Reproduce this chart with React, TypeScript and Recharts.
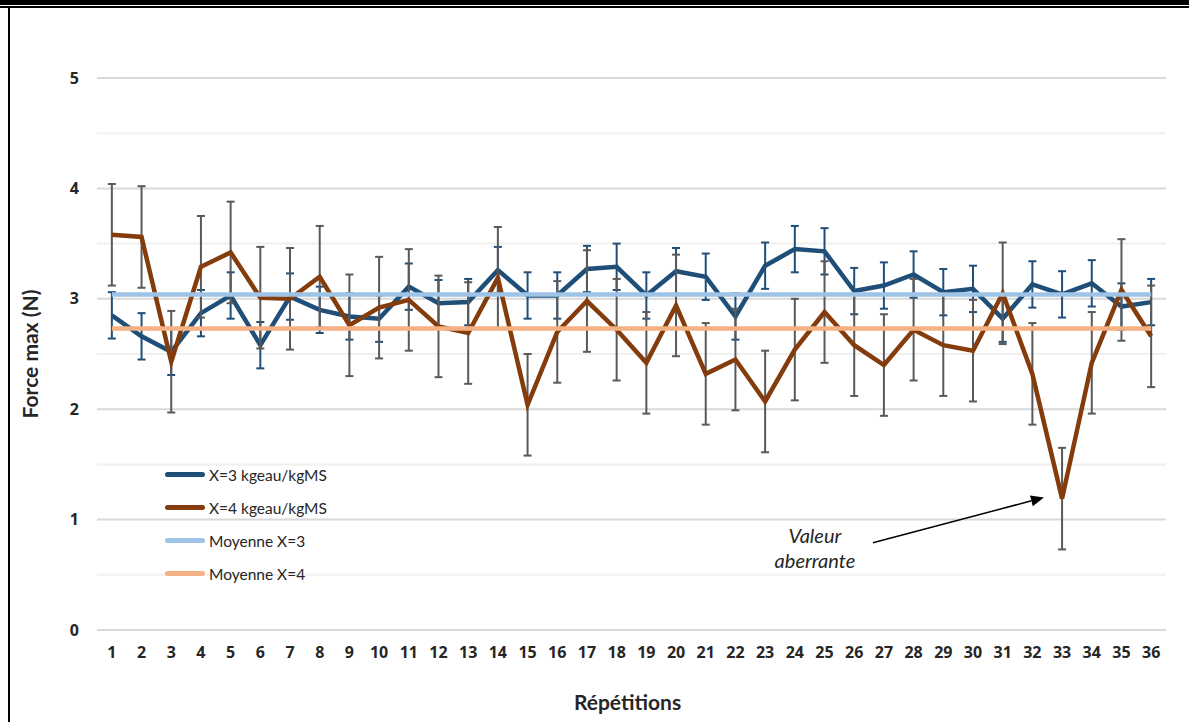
import React from "react";
import {
  ComposedChart,
  Line,
  XAxis,
  YAxis,
  ErrorBar,
  ReferenceLine,
  Legend,
} from "recharts";

const repetitions = [
  1, 2, 3, 4, 5, 6, 7, 8, 9, 10, 11, 12, 13, 14, 15, 16, 17, 18,
  19, 20, 21, 22, 23, 24, 25, 26, 27, 28, 29, 30, 31, 32, 33, 34, 35, 36,
];

const forceX3 = [
  2.85, 2.66, 2.52, 2.87, 3.03, 2.58, 3.02, 2.9, 2.84, 2.82, 3.11, 2.96,
  2.97, 3.26, 3.03, 3.03, 3.27, 3.29, 3.03, 3.25, 3.2, 2.84, 3.3, 3.45,
  3.43, 3.07, 3.12, 3.22, 3.06, 3.09, 2.82, 3.13, 3.04, 3.14, 2.93, 2.97,
];

const forceX4 = [
  3.58, 3.56, 2.43, 3.29, 3.42, 3.01, 3.0, 3.2, 2.76, 2.92, 2.99, 2.75,
  2.69, 3.19, 2.04, 2.7, 2.98, 2.72, 2.42, 2.94, 2.32, 2.45, 2.07, 2.54,
  2.88, 2.58, 2.4, 2.72, 2.58, 2.53, 3.05, 2.32, 1.19, 2.42, 3.08, 2.66,
];

// écart-type (barres d'erreur) et moyennes
const errX3 = 0.21;
const errX4 = 0.46;
const meanX3 = 3.04;
const meanX4 = 2.73;

const yTickLabels = [0, 1, 2, 3, 4, 5];
const gridValues = [0, 0.5, 1, 1.5, 2, 2.5, 3, 3.5, 4, 4.5, 5];

const seriesNames = [
  "X=3 kgeau/kgMS",
  "X=4 kgeau/kgMS",
  "Moyenne X=3",
  "Moyenne X=4",
];
const seriesColors = ["#1F4E79", "#843C0C", "#9DC3E6", "#F4B183"];

const data = repetitions.map((rep, i) => ({
  rep,
  x3: forceX3[i],
  x4: forceX4[i],
  e3: errX3,
  e4: errX4,
  m3: meanX3,
  m4: meanX4,
}));

const FONT = "Lato, 'Open Sans', sans-serif";
const TICK_FONT = "'Open Sans', Lato, sans-serif";
const TEXT = "#262626";

const YTick = (props: any) => {
  const { x, y, payload } = props;
  return (
    <text x={x} y={y} dy="0.35em" textAnchor="end" fontFamily={TICK_FONT} fontWeight={700} fontSize={16} fill={TEXT}>
      {payload.value}
    </text>
  );
};

const XTick = (props: any) => {
  const { x, y, payload } = props;
  return (
    <text x={x} y={y} dy="0.35em" textAnchor="middle" fontFamily={TICK_FONT} fontWeight={700} fontSize={16} fill={TEXT}>
      {payload.value}
    </text>
  );
};

// légende dans l'ordre des séries (pas de tri alphabétique)
const LegendBox = () => (
  <div style={{ fontFamily: FONT, fontSize: 15.5, color: TEXT }}>
    {seriesNames.map((name, i) => (
      <div key={name} style={{ display: "flex", alignItems: "center", height: 33 }}>
        <div style={{ width: 40, height: 4.5, borderRadius: 3, background: seriesColors[i], marginRight: 4 }} />
        <span>{name}</span>
      </div>
    ))}
  </div>
);

const Arrow = (props: any) => {
  const { x1, y1, x2, y2 } = props;
  const ang = Math.atan2(y2 - y1, x2 - x1);
  const len = 13;
  const half = 5.5;
  const bx = x2 - len * Math.cos(ang);
  const by = y2 - len * Math.sin(ang);
  const px = -Math.sin(ang) * half;
  const py = Math.cos(ang) * half;
  return (
    <g>
      <line x1={x1} y1={y1} x2={bx} y2={by} stroke="#000" strokeWidth={1.5} />
      <polygon points={`${x2},${y2} ${bx + px},${by + py} ${bx - px},${by - py}`} fill="#000" />
      <text x={x1 - 58} y={y1} textAnchor="middle" fontFamily={FONT} fontStyle="italic" fontSize={20} fill={TEXT}>
        Valeur
      </text>
      <text x={x1 - 58} y={y1 + 25} textAnchor="middle" fontFamily={FONT} fontStyle="italic" fontSize={20} fill={TEXT}>
        aberrante
      </text>
    </g>
  );
};

export default function App() {
  return (
    <div style={{ position: "absolute", left: 0, top: 0, width: 1189, height: 722, background: "#fff", overflow: "hidden" }}>
      <div style={{ position: "absolute", left: 0, top: 0, width: 1189, height: 4.5, background: "#000" }} />
      <div style={{ position: "absolute", left: 0, top: 6, width: 1189, height: 1.5, background: "#000" }} />
      <div style={{ position: "absolute", left: 7.5, top: 6, width: 2, height: 716, background: "#000" }} />
      <ComposedChart
        width={1189}
        height={722}
        data={data}
        margin={{ top: 78, right: 23, bottom: 52, left: 37 }}
      >
        <XAxis
          dataKey="rep"
          type="number"
          domain={[0.5, 36.5]}
          ticks={repetitions}
          interval={0}
          axisLine={false}
          tickLine={false}
          tickSize={6}
          tickMargin={16}
          tick={<XTick />}
          height={40}
          label={{
            content: (p: any) => (
              <text
                x={p.viewBox.x + p.viewBox.width / 2 - 4}
                y={p.viewBox.y + 73}
                dy="0.35em"
                textAnchor="middle"
                fontFamily={FONT}
                fontWeight={700}
                fontSize={21}
                fill={TEXT}
              >
                Répétitions
              </text>
            ),
          }}
        />
        <YAxis
          type="number"
          domain={[0, 5]}
          ticks={yTickLabels}
          interval={0}
          axisLine={false}
          tickLine={false}
          tickSize={6}
          tickMargin={12}
          tick={<YTick />}
          width={60}
          label={{
            content: (p: any) => {
              const cx = p.viewBox.x - 6;
              const cy = p.viewBox.y + p.viewBox.height / 2;
              return (
                <text
                  x={cx}
                  y={cy}
                  dy="0.35em"
                  textAnchor="middle"
                  transform={`rotate(-90 ${cx} ${cy})`}
                  fontFamily={FONT}
                  fontWeight={700}
                  fontSize={21}
                  fill={TEXT}
                >
                  Force max (N)
                </text>
              );
            },
          }}
        />
        {gridValues.map((v) => (
          <ReferenceLine
            key={v}
            y={v}
            stroke={Number.isInteger(v) ? "#D9D9D9" : "#F0F0F0"}
            strokeWidth={2}
          />
        ))}
        <Legend
          layout="horizontal"
          verticalAlign="middle"
          align="center"
          content={<LegendBox />}
          wrapperStyle={{ left: 165, top: 458, width: 260, height: 132 }}
        />
        <Line
          dataKey="x3"
          name={seriesNames[0]}
          stroke={seriesColors[0]}
          strokeWidth={4.5}
          dot={false}
          isAnimationActive={false}
        >
          <ErrorBar dataKey="e3" width={4} stroke="#1F4E79" strokeWidth={2} direction="y" />
        </Line>
        <Line
          dataKey="x4"
          name={seriesNames[1]}
          stroke={seriesColors[1]}
          strokeWidth={4.5}
          dot={false}
          isAnimationActive={false}
        >
          <ErrorBar dataKey="e4" width={4} stroke="#595959" strokeWidth={2} direction="y" />
        </Line>
        <Line
          dataKey="m3"
          name={seriesNames[2]}
          stroke={seriesColors[2]}
          strokeWidth={4.5}
          dot={false}
          isAnimationActive={false}
        />
        <Line
          dataKey="m4"
          name={seriesNames[3]}
          stroke={seriesColors[3]}
          strokeWidth={4.5}
          dot={false}
          isAnimationActive={false}
        />
        <ReferenceLine
          segment={[
            { x: 26.63, y: 0.79 },
            { x: 32.39, y: 1.2 },
          ]}
          shape={<Arrow />}
        />
      </ComposedChart>
    </div>
  );
}
